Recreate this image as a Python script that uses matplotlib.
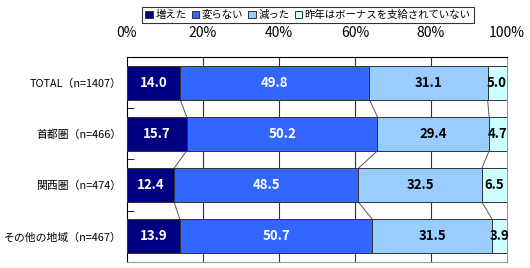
import matplotlib
matplotlib.use("Agg")
import matplotlib.pyplot as plt
import numpy as np

plt.rcParams['font.family'] = ['Noto Sans CJK JP', 'DejaVu Sans']

categories = ['TOTAL（n=1407）', '首都圏（n=466）', '関西圏（n=474）', 'その他の地域（n=467）']
series_names = ['増えた', '変らない', '減った', '昨年はボーナスを支給されていない']
increased = [14.0, 15.7, 12.4, 13.9]
unchanged = [49.8, 50.2, 48.5, 50.7]
decreased = [31.1, 29.4, 32.5, 31.5]
not_paid = [5.0, 4.7, 6.5, 3.9]
colors = ['#000080', '#3366FF', '#99CCFF', '#CCFFFF']
text_colors = ['white', 'white', 'black', 'black']
xticks = [0, 20, 40, 60, 80, 100]


def main():
    data = np.array([increased, unchanged, decreased, not_paid])
    fig = plt.figure(figsize=(5.3, 2.68), dpi=100)
    ax = fig.add_axes([0.2396, 0.0224, 0.717, 0.765])

    y = np.arange(len(categories))
    h = 0.66
    left = np.zeros(len(categories))
    for k in range(4):
        ax.barh(y, data[k], left=left, height=h, color=colors[k],
                edgecolor='#333333', linewidth=0.7, label=series_names[k], zorder=3)
        for i in range(len(categories)):
            v = data[k][i]
            ax.text(left[i] + v / 2, y[i], f'{v:.1f}', ha='center', va='center',
                    color=text_colors[k], fontsize=9.5, fontweight='semibold', zorder=4)
        left = left + data[k]

    # series lines between bars
    cum = np.cumsum(data, axis=0)
    for k in range(3):
        for i in range(len(categories) - 1):
            ax.plot([cum[k][i], cum[k][i + 1]], [y[i] + h / 2, y[i + 1] - h / 2],
                    color='#555555', linewidth=0.7, zorder=2)

    ax.set_xlim(0, 100)
    ax.set_ylim(len(categories) - 0.5, -0.5)
    ax.set_xticks(xticks)
    ax.set_xticklabels([f'{t}%' for t in xticks], fontsize=10)
    ax.xaxis.tick_top()
    ax.tick_params(axis='x', length=0, pad=12)
    ax.set_yticks(y)
    ax.set_yticklabels(categories, fontsize=7.8)
    ax.tick_params(axis='y', which='major', length=0, pad=4)
    ax.set_yticks(np.arange(-0.5, len(categories), 1), minor=True)
    ax.tick_params(axis='y', which='minor', direction='in', length=5, color='black')

    for t in xticks[1:-1]:
        ax.axvline(t, color='#333333', linewidth=0.8, zorder=1)

    ax.spines['left'].set_color('black')
    ax.spines['top'].set_color('black')
    ax.spines['right'].set_color('#999999')
    ax.spines['bottom'].set_color('#999999')

    leg = fig.legend(loc='upper center', bbox_to_anchor=(0.581, 0.995), ncol=4,
                     fontsize=7.5, frameon=True, fancybox=False, edgecolor='black',
                     handlelength=0.7, handleheight=0.7, handletextpad=0.25,
                     columnspacing=0.5, borderpad=0.3)
    leg.get_frame().set_linewidth(0.8)

    fig.savefig('out.png', dpi=100)
    plt.close(fig)


if __name__ == '__main__':
    main()
